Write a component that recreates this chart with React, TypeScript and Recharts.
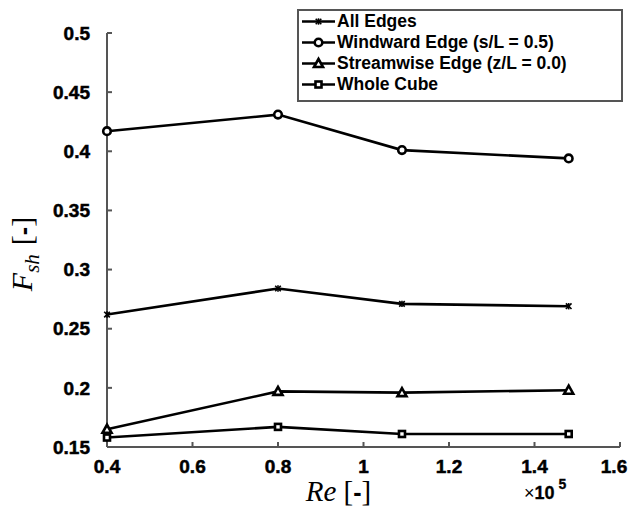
import React from 'react';
import { LineChart, Line, XAxis, YAxis } from 'recharts';

// Re values (x 10^5) at which the shelter factor was evaluated
const reValues = [0.4, 0.8, 1.09, 1.48];

// F_sh per configuration
const allEdges = [0.262, 0.284, 0.271, 0.269];
const windwardEdge = [0.417, 0.431, 0.401, 0.394];
const streamwiseEdge = [0.165, 0.197, 0.196, 0.198];
const wholeCube = [0.158, 0.167, 0.161, 0.161];

const xTicks = [0.4, 0.6, 0.8, 1, 1.2, 1.4, 1.6];
const yTicks = [0.15, 0.2, 0.25, 0.3, 0.35, 0.4, 0.45, 0.5];

const seriesNames = [
  'All Edges',
  'Windward Edge (s/L = 0.5)',
  'Streamwise Edge (z/L = 0.0)',
  'Whole Cube',
];
const seriesKeys = ['allEdges', 'windward', 'streamwise', 'cube'];
const markerKinds = ['star', 'circle', 'triangle', 'square'];

const data = reValues.map((re, i) => ({
  re,
  allEdges: allEdges[i],
  windward: windwardEdge[i],
  streamwise: streamwiseEdge[i],
  cube: wholeCube[i],
}));

const AXIS = '#555555';
const SANS = '"Liberation Sans", Arial, sans-serif';
const SERIF = '"Liberation Serif", "Times New Roman", serif';
const boldTick = { fontFamily: SANS, fontWeight: 700, fontSize: 19, fill: '#000', stroke: '#000', strokeWidth: 0.5 };

const fmt = (v: number) => String(+v.toFixed(2));

const XTick = (props: any) => {
  const { x, y, payload } = props;
  // keep the last label inside the canvas, like the original
  const tx = Math.min(x, 614);
  return (
    <text x={tx} y={y} dy="0.71em" textAnchor="middle" fontWeight="bold" style={boldTick}>
      {fmt(payload.value)}
    </text>
  );
};

const YTick = (props: any) => {
  const { x, y, payload } = props;
  return (
    <text x={x} y={y} dy="0.355em" textAnchor="end" fontWeight="bold" style={boldTick}>
      {fmt(payload.value)}
    </text>
  );
};

function Marker({ kind, cx, cy }: { kind: string; cx: number; cy: number }) {
  if (kind === 'circle') {
    return <circle cx={cx} cy={cy} r={3.8} fill="#fff" stroke="#000" strokeWidth={2.6} />;
  }
  if (kind === 'triangle') {
    return (
      <polygon
        points={`${cx},${cy - 4.5} ${cx - 4.5},${cy + 3.5} ${cx + 4.5},${cy + 3.5}`}
        fill="#fff"
        stroke="#000"
        strokeWidth={2.6}
      />
    );
  }
  if (kind === 'square') {
    return <rect x={cx - 3} y={cy - 3} width={6} height={6} fill="#fff" stroke="#000" strokeWidth={2.6} />;
  }
  // small asterisk
  return (
    <g stroke="#000" strokeWidth={1.6}>
      <line x1={cx - 2.8} y1={cy - 2.8} x2={cx + 2.8} y2={cy + 2.8} />
      <line x1={cx - 2.8} y1={cy + 2.8} x2={cx + 2.8} y2={cy - 2.8} />
      <line x1={cx} y1={cy - 3.2} x2={cx} y2={cy + 3.2} />
    </g>
  );
}

const makeDot = (kind: string) => (props: any) => {
  const { cx, cy, index } = props;
  if (cx == null || cy == null) return <g key={index} />;
  return <Marker key={index} kind={kind} cx={cx} cy={cy} />;
};

const XTitle = (props: any) => {
  const vb = props.viewBox;
  const cx = vb.x + vb.width / 2 - 25;
  return (
    <g>
      <text x={cx} y={501} textAnchor="middle" fontSize={29} fontFamily={SERIF}>
        <tspan fontStyle="italic">Re</tspan>
        <tspan dx={7}>[</tspan>
        <tspan style={{ fontWeight: 700, fontFamily: SANS, fontSize: 25 }}>-</tspan>
        <tspan>]</tspan>
      </text>
      <text x={524} y={499} fontSize={18} fontFamily={SANS} fill="#000">
        ×<tspan style={{ fontWeight: 700, stroke: '#000', strokeWidth: 0.3 }}>10</tspan>
        <tspan dx={4} dy={-10} style={{ fontSize: 14, fontWeight: 700, stroke: '#000', strokeWidth: 0.3 }}>5</tspan>
      </text>
    </g>
  );
};

const YTitle = (props: any) => {
  const vb = props.viewBox;
  const cx = 32;
  const cy = vb.y + vb.height / 2 + 14;
  return (
    <text
      x={cx}
      y={cy}
      textAnchor="middle"
      transform={`rotate(-90, ${cx}, ${cy})`}
      fontSize={30}
      fontFamily={SERIF}
    >
      <tspan fontStyle="italic">F</tspan>
      <tspan fontStyle="italic" fontSize={21} dy={7}>sh</tspan>
      <tspan dx={9} dy={-7}>[</tspan>
      <tspan style={{ fontWeight: 700, fontFamily: SANS, fontSize: 25 }}>-</tspan>
      <tspan>]</tspan>
    </text>
  );
};

function LegendBox() {
  return (
    <div
      style={{
        position: 'absolute',
        left: 297,
        top: 9,
        width: 326,
        height: 93,
        boxSizing: 'border-box',
        border: `2px solid ${AXIS}`,
        background: '#fff',
        fontFamily: SANS,
        fontWeight: 700,
        fontSize: 17.5,
        color: '#000',
      }}
    >
      {seriesNames.map((name, i) => (
        <div key={name} style={{ display: 'flex', alignItems: 'center', height: 21, whiteSpace: 'nowrap' }}>
          <svg width={38} height={21} style={{ flex: 'none' }}>
            <line x1={3} y1={10.5} x2={36} y2={10.5} stroke="#000" strokeWidth={2.6} />
            <Marker kind={markerKinds[i]} cx={19.5} cy={10.5} />
          </svg>
          <span>{name}</span>
        </div>
      ))}
    </div>
  );
}

export default function App() {
  return (
    <div style={{ position: 'absolute', left: 0, top: 0, width: 629, height: 518, background: '#fff' }}>
      <LineChart width={629} height={518} data={data} margin={{ top: 33, right: 9, bottom: 31, left: 47 }}>
        <XAxis
          dataKey="re"
          type="number"
          domain={[0.4, 1.6]}
          ticks={xTicks}
          height={40}
          stroke={AXIS}
          axisLine={{ stroke: AXIS, strokeWidth: 2 }}
          tickLine={{ stroke: AXIS, strokeWidth: 2 }}
          tickSize={-5}
          tickMargin={18}
          tick={<XTick />}
          label={XTitle}
        />
        <YAxis
          type="number"
          domain={[0.15, 0.5]}
          ticks={yTicks}
          width={60}
          stroke={AXIS}
          axisLine={{ stroke: AXIS, strokeWidth: 2 }}
          tickLine={{ stroke: AXIS, strokeWidth: 2 }}
          tickSize={-5}
          tickMargin={22}
          tick={<YTick />}
          label={YTitle}
        />
        {seriesKeys.map((key, i) => (
          <Line
            key={key}
            dataKey={key}
            name={seriesNames[i]}
            type="linear"
            stroke="#000"
            strokeWidth={2.6}
            dot={makeDot(markerKinds[i])}
            activeDot={false}
            isAnimationActive={false}
          />
        ))}
      </LineChart>
      <LegendBox />
    </div>
  );
}
